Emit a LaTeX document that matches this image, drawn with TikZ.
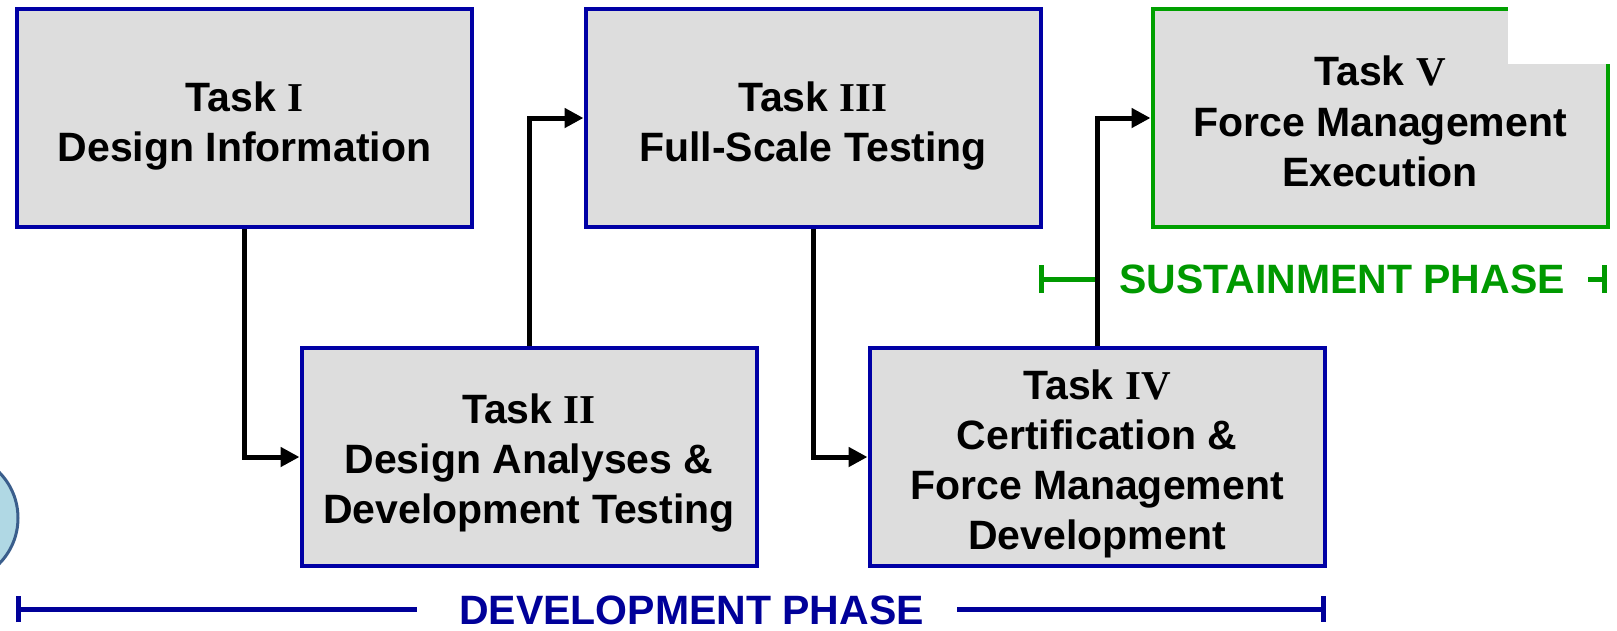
\documentclass[tikz,border=0pt]{standalone}
\usepackage{fontspec}
\setmainfont{Liberation Sans}
\newfontfamily\numfont{Liberation Serif}
\usetikzlibrary{arrows.meta}
\definecolor{boxblue}{RGB}{0,0,165}
\definecolor{boxgreen}{RGB}{0,160,0}
\definecolor{phaseblue}{RGB}{0,0,153}
\definecolor{phasegreen}{RGB}{0,153,0}
\definecolor{boxfill}{RGB}{221,221,221}
\definecolor{circfill}{RGB}{176,216,228}
\definecolor{circline}{RGB}{58,94,140}
\newcommand{\rn}[1]{{\numfont\bfseries #1}}
\begin{document}
\begin{tikzpicture}[x=1pt,y=-1pt,
  taskbox/.style={draw=boxblue, fill=boxfill, line width=4pt, minimum width=455pt,
    minimum height=218pt, inner sep=0pt},
  tasktext/.style={inner sep=0pt, align=center,
    font=\bfseries\fontsize{41}{50.2}\selectfont},
  flow/.style={draw=black, line width=5pt, -{Triangle[length=19pt,width=19pt]}},
  phasetext/.style={font=\bfseries\fontsize{41}{49}\selectfont, inner sep=0pt},
  phasebar/.style={line width=5pt},
]
\useasboundingbox (0,0) rectangle (1617,630);
\fill[white] (0,0) rectangle (1617,630);

\node[circle, draw=circline, fill=circfill, line width=3pt, minimum size=130pt, inner sep=0pt] (circ) at (-47,518) {};

\node[taskbox] (t1) at (244.5,118) {};
\node[taskbox] (t3) at (813,118) {};
\node[taskbox, draw=boxgreen] (t5) at (1380,118) {};
\node[taskbox] (t2) at (529,457) {};
\node[taskbox] (t4) at (1097,457) {};

\node[tasktext] (t1txt) at ([yshift=-8pt]t1.center) {Task \rn{I}\\Design Information};
\node[tasktext] (t3txt) at ([yshift=-8pt]t3.center) {Task \rn{III}\\Full-Scale Testing};
\node[tasktext] (t5txt) at ([yshift=-3.5pt]t5.center) {Task \rn{V}\\Force Management\\Execution};
\node[tasktext] (t2txt) at ([yshift=-6pt]t2.center) {Task \rn{II}\\Design Analyses \&\\Development Testing};
\node[tasktext] (t4txt) at ([yshift=-7pt]t4.center) {Task \rn{IV}\\Certification \&\\Force Management\\Development};

\fill[white] (1508,0) rectangle (1617,64);

% development phase
\node[phasetext, text=phaseblue] (dev) at (691.5,610) {DEVELOPMENT PHASE};
\coordinate (devL) at (16,609);
\coordinate (devR) at (1326,609);
\draw[phasebar, phaseblue, {Bar[width=26pt]}-, shorten >=42pt] (devL) -- (devL -| dev.west);
\draw[phasebar, phaseblue, -{Bar[width=26pt]}, shorten <=33pt] (devR -| dev.east) -- (devR);

% sustainment phase
\node[phasetext, text=phasegreen] (sus) at (1342,279) {SUSTAINMENT PHASE};
\coordinate (susL) at (1039,279);
\coordinate (susR) at (1607,279);
\draw[phasebar, phasegreen, {Bar[width=28pt]}-] (susL) -- (susL -| t4.north);
\draw[phasebar, phasegreen, -{Bar[width=28pt]}, shorten <=23pt] (sus.east) -- (susR);

% flow arrows
\draw[flow] (t1.south) |- (t2.west);
\draw[flow] (t2.north) |- (t3.west);
\draw[flow] (t3.south) |- (t4.west);
\draw[flow] (t4.north) |- (t5.west);
\end{tikzpicture}
\end{document}
